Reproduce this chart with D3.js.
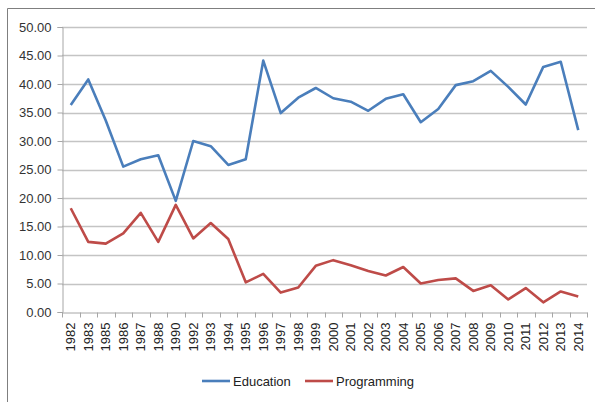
<!DOCTYPE html>
<html>
<head>
<meta charset="utf-8">
<script src="https://cdn.jsdelivr.net/npm/d3@7"></script>
<style>
  html, body { margin: 0; padding: 0; background: #fff; }
  svg { display: block; font-family: "Liberation Sans", Arial, sans-serif; }
</style>
</head>
<body>
<div id="chart"></div>
<script>
// --- data ---
const years = ['1982', '1983', '1985', '1986', '1987', '1988', '1990', '1992', '1993', '1994',
  '1995', '1996', '1997', '1998', '1999', '2000', '2001', '2002', '2003', '2004',
  '2005', '2006', '2007', '2008', '2009', '2010', '2011', '2012', '2013', '2014'];

const education = [36.3, 40.8, 33.6, 25.5, 26.8, 27.5, 19.5, 30.0, 29.1, 25.8,
  26.8, 44.1, 34.9, 37.6, 39.3, 37.5, 36.9, 35.3, 37.4, 38.2,
  33.3, 35.6, 39.8, 40.5, 42.3, 39.5, 36.4, 43.0, 43.9, 31.9];

const programming = [18.2, 12.3, 12.0, 13.8, 17.4, 12.3, 18.8, 12.9, 15.6, 12.8,
  5.2, 6.7, 3.4, 4.3, 8.1, 9.1, 8.2, 7.2, 6.4, 7.9,
  5.0, 5.6, 5.9, 3.7, 4.7, 2.2, 4.2, 1.7, 3.6, 2.7];

const seriesNames = ['Education', 'Programming'];
const seriesColors = ['#4a7ebb', '#be4b48'];
const yTicks = [0, 5, 10, 15, 20, 25, 30, 35, 40, 45, 50];

const W = 595, H = 402;
const margin = { left: 62, right: 8, top: 27, bottom: 90 };

const svg = d3.select('#chart').append('svg')
  .attr('width', W)
  .attr('height', H);

// outer frame (left + top only visible)
svg.append('path')
  .attr('d', `M 7.5 ${H} L 7.5 8.5 L ${W} 8.5`)
  .attr('fill', 'none')
  .attr('stroke', '#7f7f7f')
  .attr('stroke-width', 1);

const x = d3.scaleBand()
  .domain(years)
  .range([margin.left, W - margin.right]);

const y = d3.scaleLinear()
  .domain([0, 50])
  .range([H - margin.bottom, margin.top]);

// gridlines
svg.append('g')
  .selectAll('line')
  .data(yTicks.filter(d => d > 0))
  .join('line')
  .attr('x1', margin.left)
  .attr('x2', W - margin.right)
  .attr('y1', d => Math.round(y(d)) + 0.5)
  .attr('y2', d => Math.round(y(d)) + 0.5)
  .attr('stroke', '#c4c4c4')
  .attr('stroke-width', 1.3);

// y axis
const yAxis = svg.append('g')
  .attr('transform', `translate(${margin.left + 0.5},0)`)
  .call(d3.axisLeft(y).tickValues(yTicks).tickFormat(d3.format('.2f')).tickSize(5).tickPadding(6));
yAxis.select('.domain').attr('stroke', '#a6a6a6');
yAxis.selectAll('.tick line').attr('stroke', '#a6a6a6');
yAxis.selectAll('text').attr('font-size', 13).attr('fill', '#333').attr('font-family', 'inherit');

// x axis
const xAxis = svg.append('g')
  .attr('transform', `translate(0,${Math.round(y(0)) + 0.5})`)
  .call(d3.axisBottom(x).tickSize(0).tickPadding(0));
xAxis.select('.domain').attr('stroke', '#a6a6a6');
xAxis.selectAll('.tick text')
  .attr('font-size', 13)
  .attr('fill', '#222')
  .attr('font-family', 'inherit')
  .attr('text-anchor', 'end')
  .attr('transform', 'rotate(-90)')
  .attr('x', -10)
  .attr('y', 0)
  .attr('dy', '0.35em');

// tick marks between categories
xAxis.append('g')
  .selectAll('line')
  .data(years.concat(['end']))
  .join('line')
  .attr('x1', (d, i) => Math.round(margin.left + i * x.step()) + 0.5)
  .attr('x2', (d, i) => Math.round(margin.left + i * x.step()) + 0.5)
  .attr('y1', 0)
  .attr('y2', 5)
  .attr('stroke', '#a6a6a6');

// lines
const line = d3.line()
  .x((d, i) => x(years[i]) + x.bandwidth() / 2)
  .y(d => y(d));

[education, programming].forEach((vals, k) => {
  svg.append('path')
    .datum(vals)
    .attr('d', line)
    .attr('fill', 'none')
    .attr('stroke', seriesColors[k])
    .attr('stroke-width', 2.6)
    .attr('stroke-linejoin', 'round');
});

// legend
const legendX = [202, 305];
const legend = svg.append('g');
seriesNames.forEach((name, k) => {
  const g = legend.append('g').attr('transform', `translate(${legendX[k]},381)`);
  g.append('line')
    .attr('x1', 0).attr('x2', 28)
    .attr('stroke', seriesColors[k])
    .attr('stroke-width', 2.6);
  g.append('text')
    .attr('x', 31)
    .attr('dy', '0.35em')
    .attr('font-size', 13)
    .attr('fill', '#222')
    .text(name);
});
</script>
</body>
</html>
